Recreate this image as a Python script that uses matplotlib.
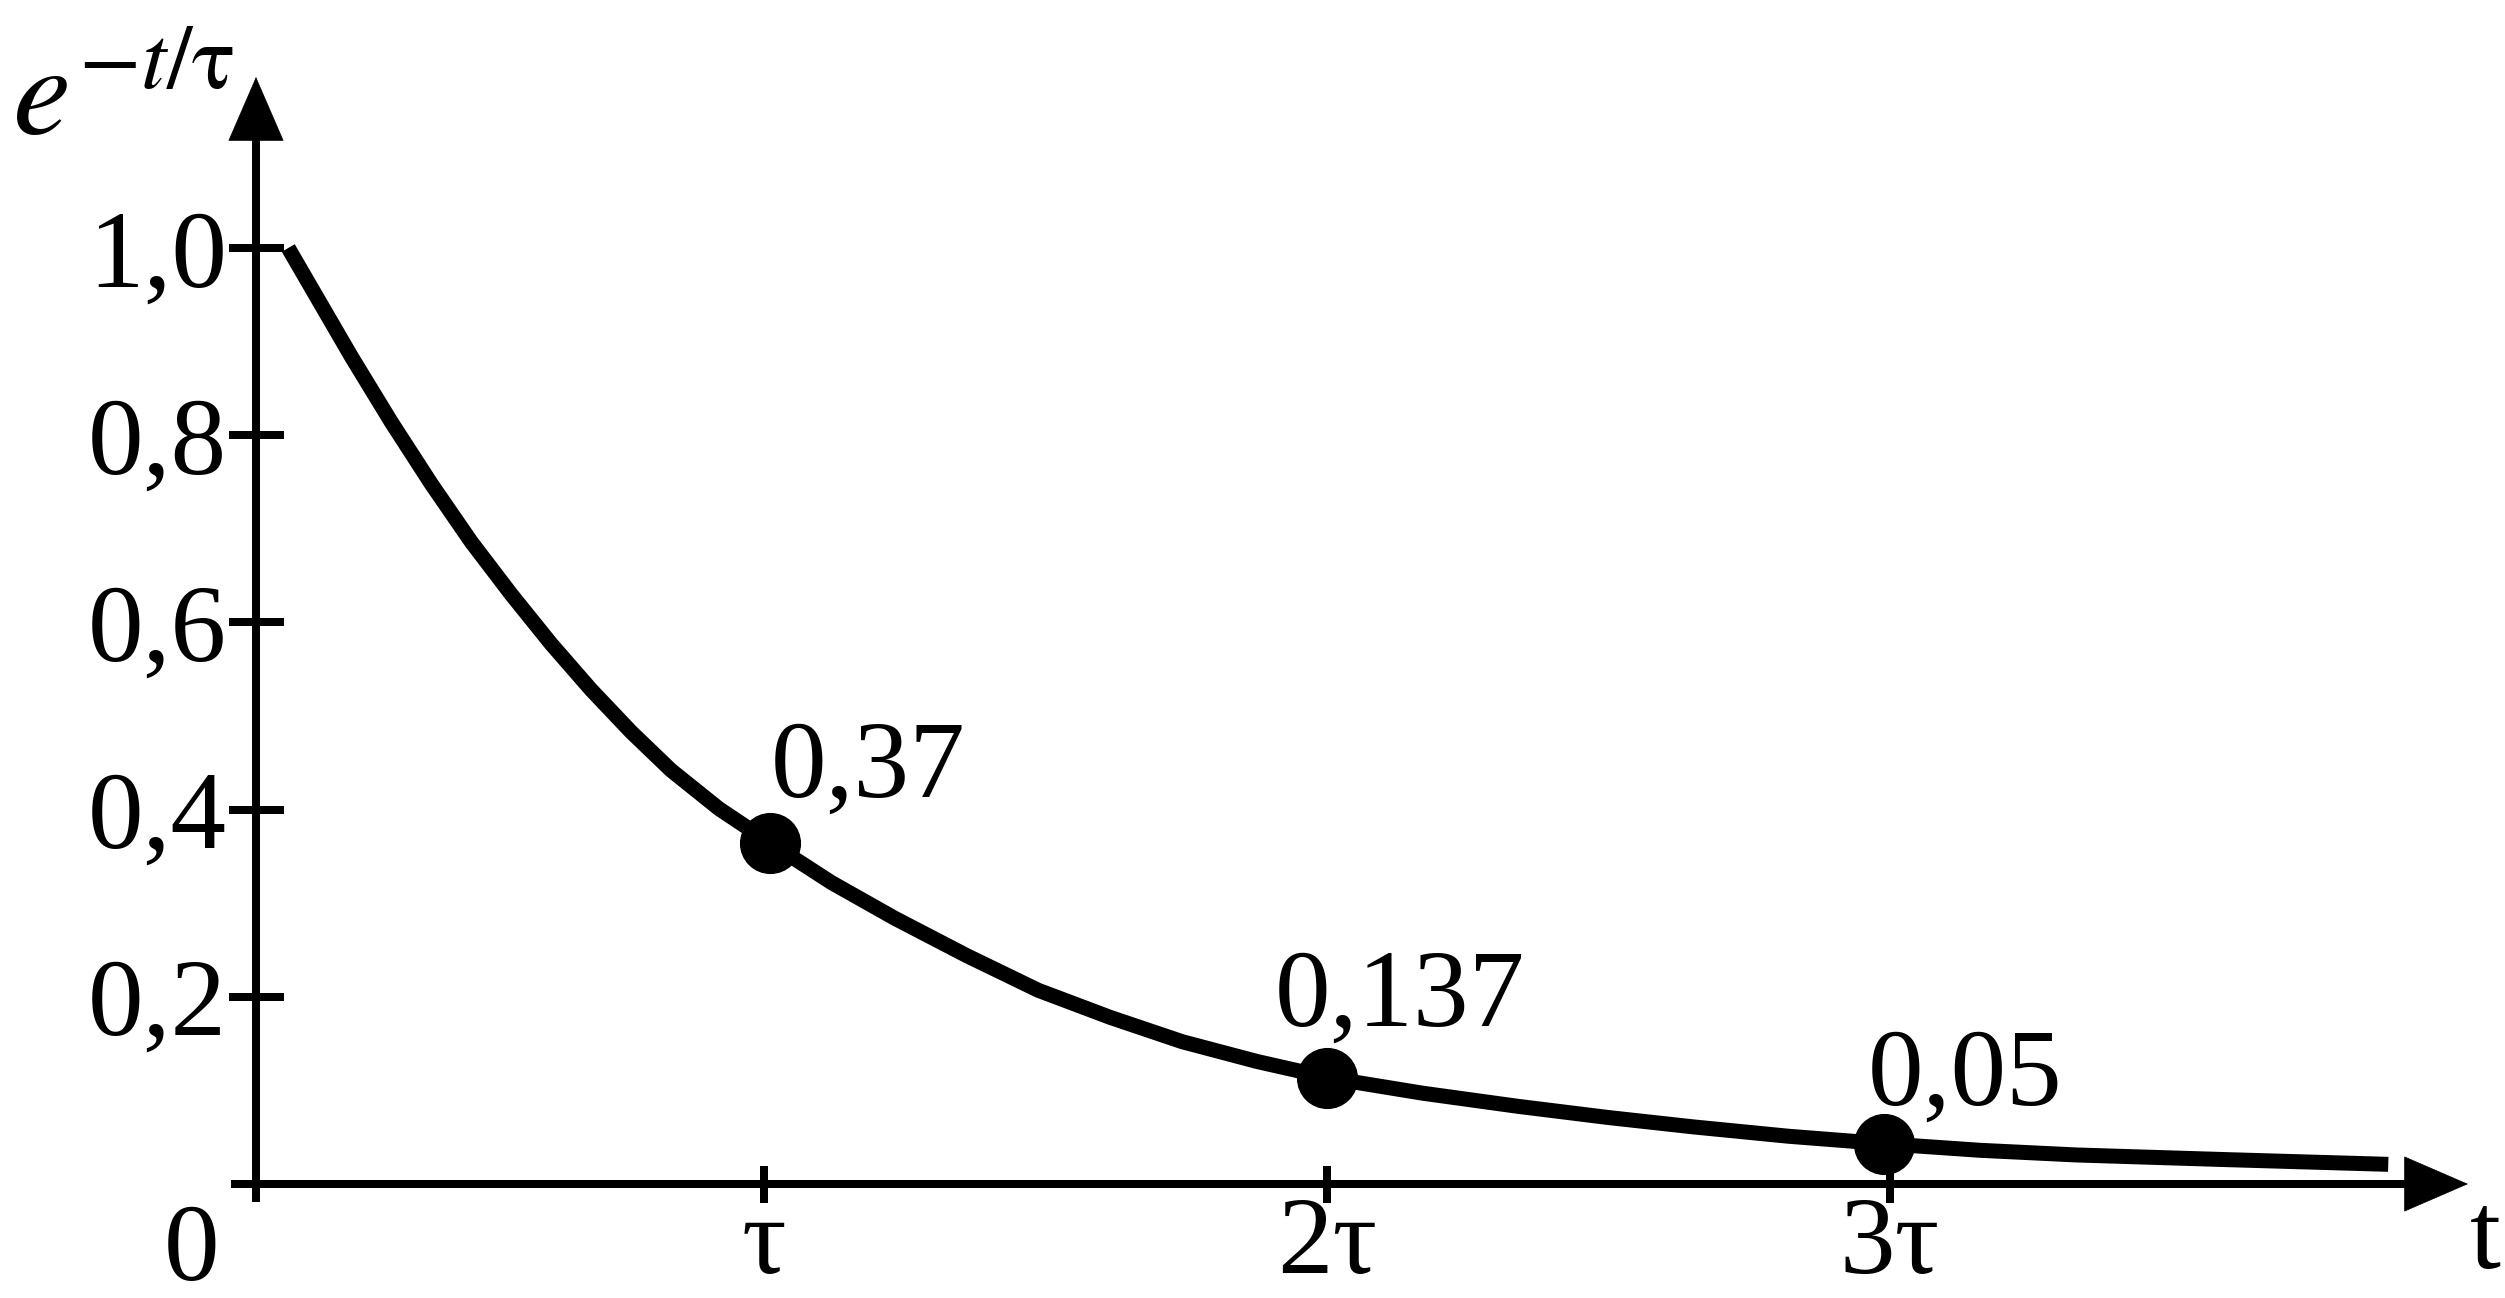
"""
plot.py : courbe de décharge e^(-t/tau) avec points remarquables.
"""

import matplotlib.pyplot as plt

# Données (t en unités de tau)
curve_t = [0.155, 0.21, 0.267, 0.338, 0.409, 0.48, 0.551, 0.622, 0.693, 0.764,
           0.835, 0.92, 1.012, 1.12, 1.232, 1.36, 1.487, 1.615, 1.743, 1.875,
           2.007, 2.17, 2.339, 2.5, 2.651, 2.82, 2.991, 3.16, 3.332, 3.6, 3.885]
curve_v = [1.0, 0.943, 0.884, 0.814, 0.748, 0.686, 0.630, 0.577, 0.528, 0.483,
           0.442, 0.401, 0.364, 0.322, 0.284, 0.244, 0.207, 0.178, 0.152, 0.131,
           0.113, 0.097, 0.083, 0.071, 0.061, 0.051, 0.043, 0.036, 0.031, 0.026, 0.021]

point_t = [1.01, 2.0, 2.99]
point_v = [0.364, 0.113, 0.043]
point_labels = ["0,37", "0,137", "0,05"]

ytick_vals = [0.2, 0.4, 0.6, 0.8, 1.0]
ytick_labels = ["0,2", "0,4", "0,6", "0,8", "1,0"]
xtick_vals = [1, 2, 3]
xtick_labels = ["τ", "2τ", "3τ"]

plt.rcParams['font.family'] = ['Liberation Serif', 'DejaVu Serif']
plt.rcParams['mathtext.fontset'] = 'stix'

W, H, DPI = 2505, 1298, 100
# Échelle en pixels : 1 tau = 563 px, 1.0 = 936 px
T0_PX, V0_PX = 201, 1184
PX_T, PX_V = 563, 936
PT = 0.72  # points par pixel


def tx(px):
    return (px - T0_PX) / PX_T


def vy(py):
    return (V0_PX - py) / PX_V


fig = plt.figure(figsize=(W / DPI, H / DPI), dpi=DPI)
ax = fig.add_axes([0, 0, 1, 1])
ax.set_xlim(tx(0), tx(W))
ax.set_ylim(vy(H), vy(0))
ax.patch.set_alpha(0)

x_axis_pos = tx(256)
lw_axis = 8 * PT

# Axes
for s in ['top', 'right']:
    ax.spines[s].set_visible(False)
ax.spines['left'].set_position(('data', x_axis_pos))
ax.spines['bottom'].set_position(('data', 0))
ax.spines['left'].set_bounds(vy(1202), vy(130))
ax.spines['bottom'].set_bounds(tx(231), tx(2420))
for s in ['left', 'bottom']:
    ax.spines[s].set_linewidth(lw_axis)
    ax.spines[s].set_capstyle('butt')

ax.set_yticks(ytick_vals, ytick_labels)
ax.set_xticks(xtick_vals, xtick_labels)
ax.tick_params(axis='y', direction='inout', length=55 * PT, width=lw_axis, pad=1, labelsize=80)
ax.tick_params(axis='x', direction='inout', length=37 * PT, width=lw_axis, pad=-4, labelsize=80)

# Flèches des axes
arrow = dict(arrowstyle='-|>,head_length=45,head_width=19.5', mutation_scale=1,
             lw=0.5, color='k', shrinkA=0, shrinkB=0)
ax.annotate('', xy=(x_axis_pos, vy(77)), xytext=(x_axis_pos, vy(200)), arrowprops=arrow)
ax.annotate('', xy=(tx(2468), 0), xytext=(tx(2340), 0), arrowprops=arrow)

# Courbe et points
ax.plot(curve_t, curve_v, color='k', lw=15 * PT, solid_capstyle='butt', solid_joinstyle='round')
ax.plot(point_t, point_v, 'o', ms=43, color='k')

offsets = [(1, 47), (-52, 53), (-17, 39)]
for t, v, lab, (dx, dy) in zip(point_t, point_v, point_labels, offsets):
    ax.annotate(lab, (t, v), xytext=(dx * PT, dy * PT), textcoords='offset points',
                ha='left', va='baseline', fontsize=80)

# Libellés des axes
ax.text(tx(192), vy(1280), "0", ha='center', va='baseline', fontsize=80)
ax.text(tx(2470), vy(1268), "t", ha='left', va='baseline', fontsize=80)
ax.text(tx(12), vy(135), r'$e^{-t/\mathrm{\tau}}$', ha='left', va='baseline', fontsize=94)

fig.savefig("out.png", dpi=DPI)
